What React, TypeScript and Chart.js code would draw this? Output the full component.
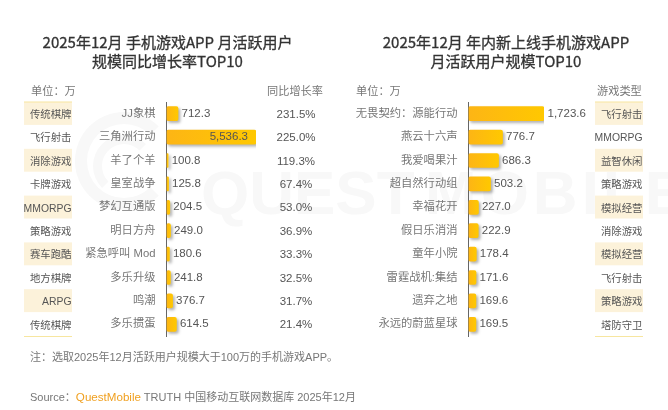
import { useEffect, useRef } from "react";
import { Chart, registerables } from "chart.js";

Chart.register(...registerables);

const FONT = '"Liberation Sans", "Noto Sans CJK SC", sans-serif';
const TITLE_FONT = '"Noto Sans CJK SC", "Noto Sans", sans-serif';

const leftGames = ["JJ象棋", "三角洲行动", "羊了个羊", "皇室战争", "梦幻互通版", "明日方舟", "紧急呼叫 Mod", "多乐升级", "鸣潮", "多乐掼蛋"];
const leftUsers = [712.3, 5536.3, 100.8, 125.8, 204.5, 249.0, 180.6, 241.8, 376.7, 614.5];
const leftTypes = ["传统棋牌", "飞行射击", "消除游戏", "卡牌游戏", "MMORPG", "策略游戏", "赛车跑酷", "地方棋牌", "ARPG", "传统棋牌"];
const leftGrowth = ["231.5%", "225.0%", "119.3%", "67.4%", "53.0%", "36.9%", "33.3%", "32.5%", "31.7%", "21.4%"];

const rightGames = ["无畏契约：源能行动", "燕云十六声", "我爱喝果汁", "超自然行动组", "幸福花开", "假日乐消消", "童年小院", "雷霆战机:集结", "遗弃之地", "永远的蔚蓝星球"];
const rightUsers = [1723.6, 776.7, 686.3, 503.2, 227.0, 222.9, 178.4, 171.6, 169.6, 169.5];
const rightTypes = ["飞行射击", "MMORPG", "益智休闲", "策略游戏", "模拟经营", "消除游戏", "模拟经营", "飞行射击", "策略游戏", "塔防守卫"];

type PanelProps = {
  left: number;
  width: number;
  axisX: number;
  barEnd: number;
  max: number;
  games: string[];
  users: number[];
  types: string[];
  typeBox: [number, number];
  growth?: string[];
  growthX?: number;
};

function BarPanel(props: PanelProps) {
  const canvasRef = useRef<HTMLCanvasElement>(null);

  useEffect(() => {
    if (!canvasRef.current) return;
    const { width, axisX, barEnd, max, games, users, types, typeBox, growth, growthX } = props;

    const columns = {
      id: "columns",
      afterDraw(chart: any) {
        const { ctx, scales, chartArea } = chart;
        const y = scales.y;
        const rowH = chartArea.height / types.length;
        ctx.save();
        types.forEach((t, i) => {
          const cy = y.getPixelForValue(i);
          if (i % 2 === 0) {
            ctx.fillStyle = "#fcf2da";
            ctx.fillRect(typeBox[0], cy - rowH / 2, typeBox[1] - typeBox[0], rowH - 0.5);
          }
          ctx.font = `10.4px ${FONT}`;
          ctx.fillStyle = "#555";
          ctx.textAlign = "right";
          ctx.textBaseline = "middle";
          ctx.fillText(t, typeBox[1] - 0.5, cy + 1.5);
        });
        // thin yellow rules closing the type column
        ctx.fillStyle = "#f7e6a0";
        ctx.fillRect(typeBox[0], chartArea.top - 0.5, typeBox[1] - typeBox[0], 1);
        ctx.fillRect(typeBox[0], chartArea.bottom, typeBox[1] - typeBox[0], 1);
        if (growth && growthX) {
          ctx.font = `11.5px ${FONT}`;
          ctx.fillStyle = "#555";
          ctx.textAlign = "center";
          growth.forEach((g, i) => ctx.fillText(g, growthX, y.getPixelForValue(i) + 1));
        }
        ctx.restore();
      },
    };

    const barShadow = {
      id: "barShadow",
      beforeDatasetsDraw(chart: any) {
        const { ctx } = chart;
        ctx.save();
        ctx.shadowColor = "rgba(0,0,0,0.3)";
        ctx.shadowBlur = 3;
        ctx.shadowOffsetX = 2;
        ctx.shadowOffsetY = 2;
      },
      afterDatasetsDraw(chart: any) {
        chart.ctx.restore();
      },
    };

    const valueLabels = {
      id: "valueLabels",
      afterDatasetsDraw(chart: any) {
        const { ctx } = chart;
        const bars = chart.getDatasetMeta(0).data;
        ctx.save();
        ctx.font = `11.5px ${FONT}`;
        ctx.fillStyle = "#555";
        ctx.textBaseline = "middle";
        bars.forEach((bar: any, i: number) => {
          const text = users[i].toLocaleString("en-US", { minimumFractionDigits: 1, maximumFractionDigits: 1 });
          const inside = users[i] > max * 0.7 && growth;
          ctx.textAlign = inside ? "right" : "left";
          ctx.fillText(text, inside ? bar.x - 8 : bar.x + 3.5, bar.y);
        });
        ctx.restore();
      },
    };

    const chart = new Chart(canvasRef.current, {
      type: "bar",
      data: {
        labels: games,
        datasets: [
          {
            data: users,
            borderRadius: 2,
            borderSkipped: false,
            barThickness: 14,
            backgroundColor: (c: any) => {
              const area = c.chart.chartArea;
              if (!area) return "#ffc000";
              const g = c.chart.ctx.createLinearGradient(area.left, 0, c.chart.scales.x.getPixelForValue(users[c.dataIndex]), 0);
              g.addColorStop(0, "#fdb515");
              g.addColorStop(1, "#ffc800");
              return g;
            },
          },
        ],
      },
      options: {
        indexAxis: "y",
        animation: false,
        responsive: false,
        layout: { padding: { top: 102, bottom: 74, left: 0, right: width - barEnd } },
        scales: {
          x: { display: false, min: 0, max, grid: { display: false } },
          y: {
            grid: { display: false, drawTicks: false },
            border: { display: true, color: "#666", width: 1 },
            afterFit: (s: any) => {
              s.width = axisX;
            },
            ticks: {
              padding: 11,
              color: "#777",
              font: { family: FONT, size: 11.3 },
              autoSkip: false,
            },
          },
        },
        plugins: { legend: { display: false }, tooltip: { enabled: false } },
      },
      plugins: [barShadow, valueLabels, columns],
    } as any);

    return () => chart.destroy();
  }, []);

  return (
    <canvas
      ref={canvasRef}
      width={props.width}
      height={410}
      style={{ position: "absolute", left: props.left, top: 0, width: props.width, height: 410 }}
    />
  );
}

function Text(p: { x: number; y: number; size?: number; color?: string; children: any; align?: "left" | "center"; w?: number; title?: boolean }) {
  return (
    <div
      style={{
        position: "absolute",
        left: p.x,
        top: p.y,
        width: p.w,
        fontSize: p.size ?? 11.2,
        color: p.color ?? "#777",
        fontFamily: p.title ? TITLE_FONT : FONT,
        WebkitTextStroke: p.title ? "0.3px #333" : undefined,
        textAlign: p.align ?? "left",
        lineHeight: "19px",
        whiteSpace: "nowrap",
      }}
    >
      {p.children}
    </div>
  );
}

const WATERMARK = "#f8f8f8";

function Watermark() {
  const word = {
    position: "absolute",
    top: 149,
    fontFamily: FONT,
    fontSize: 62,
    fontWeight: 700,
    lineHeight: "88px",
    color: WATERMARK,
    whiteSpace: "nowrap",
  } as const;
  return (
    <>
      <div
        style={{
          position: "absolute",
          left: 75,
          top: 112,
          width: 74,
          height: 74,
          border: "12px solid",
          borderColor: `${WATERMARK} transparent ${WATERMARK} ${WATERMARK}`,
          borderRadius: "50%",
        }}
      />
      <div
        style={{
          position: "absolute",
          left: 93,
          top: 135,
          width: 44,
          height: 44,
          border: "9px solid",
          borderColor: `${WATERMARK} transparent transparent ${WATERMARK}`,
          borderRadius: "50%",
        }}
      />
      <div style={{ ...word, left: 201 }}>QUEST</div>
      <div style={{ ...word, left: 425, letterSpacing: 4 }}>MOBILE</div>
    </>
  );
}

export default function App() {
  useEffect(() => {
    document.body.style.margin = "0";
    document.body.style.background = "#fff";
  }, []);

  return (
    <div style={{ position: "relative", width: 668, height: 410, overflow: "hidden", background: "#fff" }}>
      <Watermark />
      <BarPanel
        left={0}
        width={334}
        axisX={166.5}
        barEnd={256}
        max={5536.3}
        games={leftGames}
        users={leftUsers}
        types={leftTypes}
        typeBox={[24, 72]}
        growth={leftGrowth}
        growthX={296}
      />
      <BarPanel
        left={334}
        width={334}
        axisX={134.5}
        barEnd={210}
        max={1723.6}
        games={rightGames}
        users={rightUsers}
        types={rightTypes}
        typeBox={[261, 309]}
      />
      <Text x={0.5} y={32} w={334} size={15} color="#333" align="center" title>
        2025年12月 手机游戏APP 月活跃用户
        <br />
        规模同比增长率TOP10
      </Text>
      <Text x={339} y={32} w={334} size={15} color="#333" align="center" title>
        2025年12月 年内新上线手机游戏APP
        <br />
        月活跃用户规模TOP10
      </Text>
      <Text x={31} y={82}>单位：万</Text>
      <Text x={267} y={82}>同比增长率</Text>
      <Text x={356} y={82}>单位：万</Text>
      <Text x={597} y={82}>游戏类型</Text>
      <Text x={30} y={348} size={11}>注：选取2025年12月活跃用户规模大于100万的手机游戏APP。</Text>
      <Text x={30} y={387} size={11}>
        Source：<span style={{ color: "#f0a020", fontSize: 11.6 }}>QuestMobile</span> TRUTH 中国移动互联网数据库 2025年12月
      </Text>
    </div>
  );
}
